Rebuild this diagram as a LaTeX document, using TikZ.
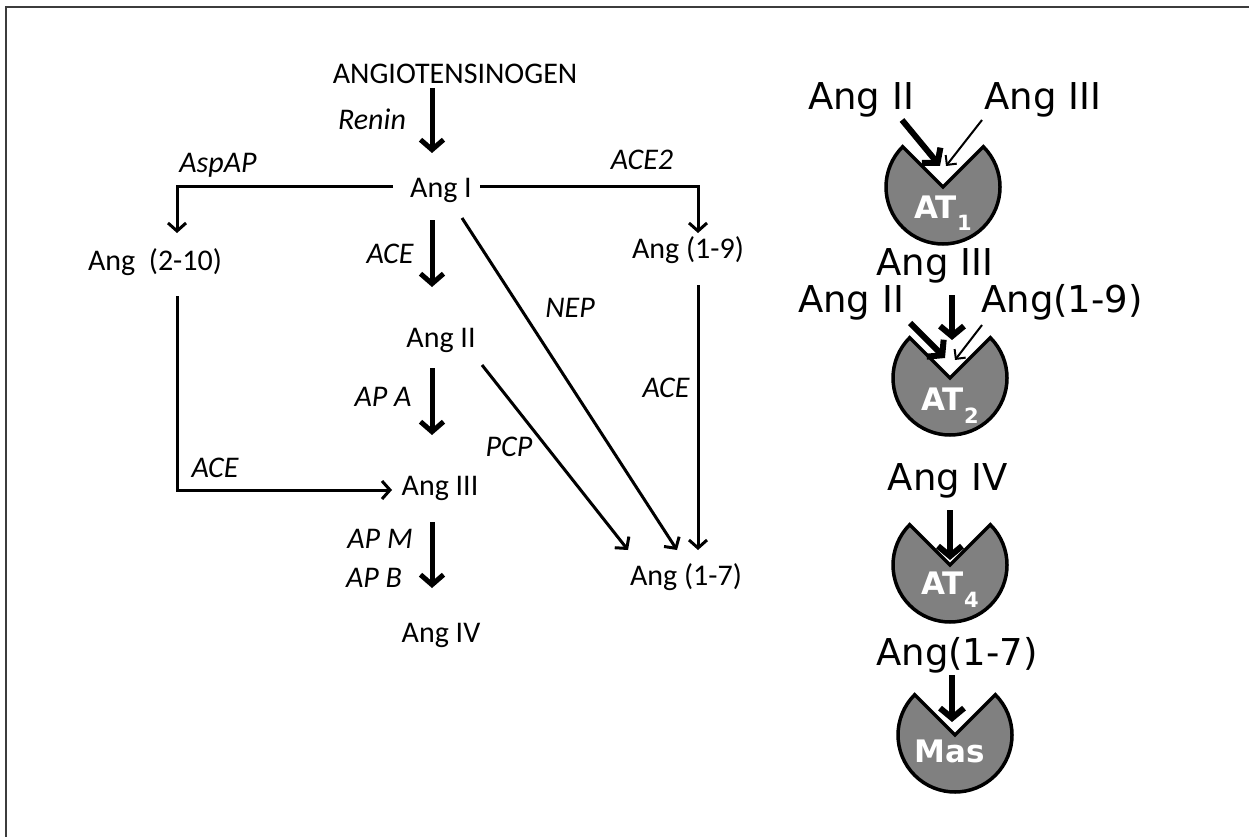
\documentclass[tikz,border=0pt]{standalone}
\usepackage{fontspec}
\setmainfont{Carlito}
\newfontfamily\vfont{DejaVu Sans}
\usetikzlibrary{arrows.meta}
\definecolor{recgray}{RGB}{128,128,128}
\definecolor{framegray}{RGB}{60,60,60}
\begin{document}
\begin{tikzpicture}[x=1pt,y=-1pt,
  lt/.style={font=\fontsize{30}{35}\selectfont, inner sep=0pt, anchor=base},
  en/.style={font=\fontsize{30}{35}\selectfont\itshape, inner sep=0pt, anchor=base},
  rt/.style={font=\vfont\fontsize{37}{44}\selectfont, inner sep=0pt, anchor=base},
  thk/.style={line width=5pt, -{Straight Barb[length=10pt,width=23pt]}},
  thn/.style={line width=3pt, -{Straight Barb[length=8pt,width=18pt]}},
  rthk/.style={line width=6pt, -{Straight Barb[length=10pt,width=24pt]}},
  rthn/.style={line width=2pt, -{Straight Barb[length=7pt,width=14pt]}},
  rec/.style={fill=recgray, draw=black, line width=3.5pt},
  rl/.style={font=\vfont\bfseries\fontsize{31}{36}\selectfont, text=white, inner sep=0pt, anchor=base}]
\useasboundingbox (0,0) rectangle (1249,837);
\fill[white] (0,0) rectangle (1249,837);
\draw[line width=2pt, framegray] (6,837) -- (6,7) -- (1249,7);

% ---- left pathway: nodes
\node[lt] (gen)    at (455,84)  {ANGIOTENSINOGEN};
\node[lt] (angI)   at (441,197) {Ang I};
\node[lt] (angII)  at (441,347) {Ang II};
\node[lt] (angIII) at (440,495) {Ang III};
\node[lt] (angIV)  at (441,642) {Ang IV};
\node[lt] (ang210) at (155,270) {Ang\ \ (2-10)};
\node[lt] (ang19)  at (688,258) {Ang (1-9)};
\node[lt] (ang17)  at (686,585) {Ang (1-7)};

% enzyme labels
\node[en] (lRenin) at (372,130) {Renin};
\node[en] (lAsp)   at (218,172) {AspAP};
\node[en] (lACE2)  at (642,170) {ACE2};
\node[en] (lACEa)  at (390,263) {ACE};
\node[en] (lNEP)   at (570,317) {NEP};
\node[en] (lAPA)   at (383,406) {AP A};
\node[en] (lACEb)  at (666,397) {ACE};
\node[en] (lPCP)   at (509,456) {PCP};
\node[en] (lACEc)  at (215,477) {ACE};
\node[en] (lAPM)   at (380,548) {AP M};
\node[en] (lAPB)   at (374,587) {AP B};

% connectors
\draw[thk] ([shift={(-23,4)}]gen.base) -- ([shift={(-9,-44)}]angI.base);
\draw[thn] ([shift={(-48,-10)}]angI.base) -| ([shift={(22,-37)}]ang210.base);
\draw[thn] ([shift={(39,-10)}]angI.base) -| ([shift={(10,-25)}]ang19.base);
\draw[thk] ([shift={(-9,23)}]angI.base) -- ([shift={(-9,-60)}]angII.base);
\draw[thn] ([shift={(21,21)}]angI.base) -- ([shift={(-9,-35)}]ang17.base);
\draw[thn] ([shift={(10,27)}]ang19.base) -- ([shift={(12,-35)}]ang17.base);
\draw[thk] ([shift={(-9,21)}]angII.base) -- ([shift={(-8,-60)}]angIII.base);
\draw[thn] ([shift={(41,18)}]angII.base) -- ([shift={(-58,-35)}]ang17.base);
\draw[thn] ([shift={(22,26)}]ang210.base) |- ([shift={(-48,-5)}]angIII.base);
\draw[thk] ([shift={(-8,27)}]angIII.base) -- ([shift={(-9,-54)}]angIV.base);

% ---- right: receptors
\coordinate (at1) at (943,187);
\coordinate (at2) at (950,378);
\coordinate (at4) at (950,565);
\coordinate (mas) at (955,735);
\foreach \c in {at1,at2,at4,mas}{
  \path[rec] (\c) -- ++(225:57) arc[start angle=225, end angle=-45, radius=57] -- cycle;
}
\node[rl] (at1l) at ([shift={(0,31)}]at1) {AT\raisebox{-13pt}{\fontsize{21}{24}\selectfont 1}};
\node[rl] (at2l) at ([shift={(0,32)}]at2) {AT\raisebox{-13pt}{\fontsize{21}{24}\selectfont 2}};
\node[rl] (at4l) at ([shift={(0,29)}]at4) {AT\raisebox{-13pt}{\fontsize{21}{24}\selectfont 4}};
\node[rl] (masl) at ([shift={(-5,27)}]mas) {Mas};

% ligands
\node[rt] (rII1)  at (861,110)  {Ang II};
\node[rt] (rIII1) at (1043,110) {Ang III};
\node[rt] (rIII2) at (935,275)  {Ang III};
\node[rt] (rII2)  at (851,312)  {Ang II};
\node[rt] (r19)   at (1062,312) {Ang(1-9)};
\node[rt] (rIV)   at (948,490)  {Ang IV};
\node[rt] (r17)   at (957,665)  {Ang(1-7)};

\draw[rthk] ([shift={(41,10)}]rII1.base) -- ([shift={(-3,-21)}]at1);
\draw[rthn] ([shift={(-61,10)}]rIII1.base) -- ([shift={(3,-21)}]at1);
\draw[rthk] ([shift={(17,20)}]rIII2.base) -- ([shift={(2,-38)}]at2);
\draw[rthk] ([shift={(59,11)}]rII2.base) -- ([shift={(-5,-20)}]at2);
\draw[rthn] ([shift={(-80,13)}]r19.base) -- ([shift={(5,-18)}]at2);
\draw[rthk] ([shift={(2,20)}]rIV.base) -- ([shift={(0,-5)}]at4);
\draw[rthk] ([shift={(-5,10)}]r17.base) -- ([shift={(-3,-13)}]mas);
\end{tikzpicture}
\end{document}
